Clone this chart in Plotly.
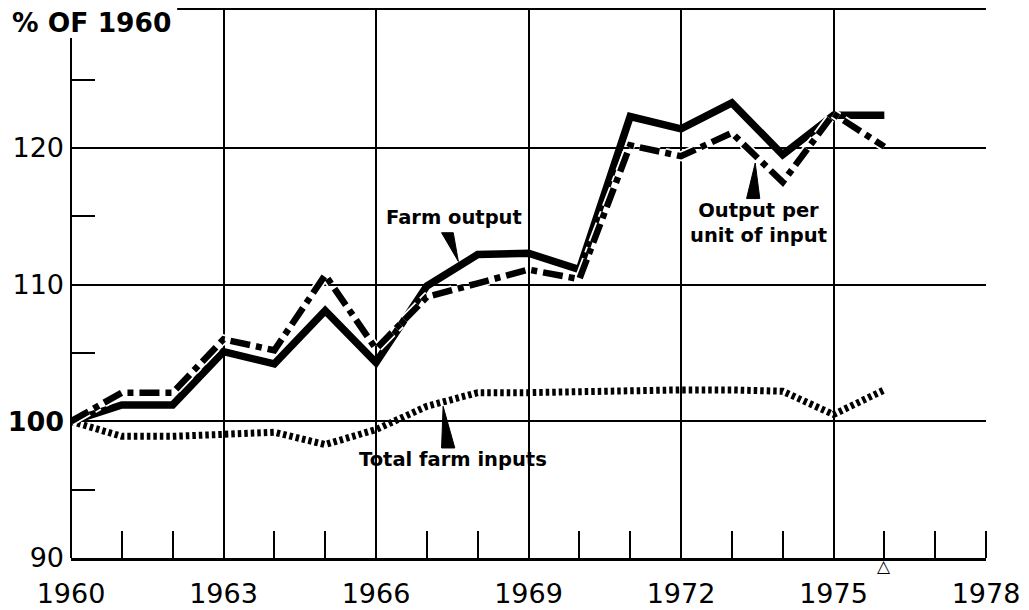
import plotly.graph_objects as go

# Index values, % of 1960
years = list(range(1960, 1977))
farm_output = [100.0, 101.2, 101.2, 105.1, 104.2, 108.1, 104.3, 109.9, 112.2, 112.3,
               111.1, 122.3, 121.4, 123.3, 119.5, 122.4, 122.4]
output_per_input = [100.0, 102.1, 102.1, 106.0, 105.2, 110.7, 105.3, 109.1, 110.1, 111.1,
                    110.4, 120.2, 119.4, 121.1, 117.5, 122.5, 120.1]
total_inputs = [100.0, 98.9, 98.9, 99.0, 99.2, 98.3, 99.4, 101.1, 102.1, 102.1,
                102.2, 102.2, 102.3, 102.3, 102.2, 100.5, 102.3]

x_labels = ["1960", "1963", "1966", "1969", "1972", "1975", "1978"]
x_label_pos = [1960, 1963, 1966, 1969, 1972, 1975, 1978]
y_label_pos = [90, 100, 110, 120]
y_labels = ["90", "<b>100</b>", "110", "120"]

FONT = "DejaVu Sans"

fig = go.Figure()
fig.add_trace(go.Scatter(
    x=years, y=total_inputs, mode="lines",
    line=dict(color="black", width=7, dash="3.5px,3px"),
))
fig.add_trace(go.Scatter(
    x=years, y=farm_output, mode="lines",
    line=dict(color="black", width=7.5),
))
# white halo under the dash-dot so it separates from the solid line
fig.add_trace(go.Scatter(
    x=years, y=output_per_input, mode="lines",
    line=dict(color="white", width=10, dash="20px,6px,6px,6px"),
))
fig.add_trace(go.Scatter(
    x=years, y=output_per_input, mode="lines",
    line=dict(color="black", width=6.5, dash="20px,6px,6px,6px"),
))

# pointer wedges for the labels
wedges = [
    "M 1967.29,113.8 L 1967.52,113.8 L 1967.62,111.7 Z",
    "M 1973.29,116.3 L 1973.55,116.3 L 1973.46,118.9 Z",
    "M 1967.29,98.05 L 1967.55,98.05 L 1967.32,101.1 Z",
]
for p in wedges:
    fig.add_shape(type="path", path=p, xref="x", yref="y",
                  fillcolor="black", line=dict(color="black", width=1))

labels = [
    (1967.53, 114.95, "Farm output"),
    (1973.52, 114.5, "Output per<br>unit of input"),
    (1967.52, 97.2, "Total farm inputs"),
]
for lx, ly, txt in labels:
    fig.add_annotation(x=lx, y=ly, xref="x", yref="y", text=f"<b>{txt}</b>",
                       showarrow=False, font=dict(family=FONT, size=19.5, color="black"),
                       align="center")

# frame pieces: left axis stops below the title, top line starts after it
fig.add_shape(type="line", xref="x domain", yref="y domain", x0=0, x1=0, y0=0, y1=0.947,
              line=dict(color="black", width=2))
fig.add_shape(type="line", xref="x domain", yref="y domain", x0=0.116, x1=1, y0=1, y1=1,
              line=dict(color="black", width=2))

fig.add_annotation(xref="paper", yref="paper", x=-0.067, y=0.976, xanchor="left",
                   yanchor="middle", text="<b>% OF 1960</b>", showarrow=False,
                   font=dict(family=FONT, size=26.5, color="black"))
fig.add_annotation(x=1976, xref="x", yref="paper", y=0, yanchor="top", yshift=4,
                   text="△", showarrow=False, font=dict(family=FONT, size=17, color="black"))

# page body adds an 8px margin, so the figure is sized to fit inside the window
fig.update_layout(
    width=1021, height=602,
    margin=dict(l=63, r=43, t=1, b=52),
    paper_bgcolor="white", plot_bgcolor="white",
    showlegend=False,
    font=dict(family=FONT, size=27, color="black"),
    xaxis=dict(
        range=[1960, 1978], tickvals=x_label_pos, ticktext=x_labels,
        showgrid=True, gridcolor="black", gridwidth=1.5, zeroline=False,
        showline=True, linecolor="black", linewidth=3, ticks="",
        ticklabelstandoff=10, automargin=False,
        minor=dict(dtick=1, tick0=1960, ticks="inside", ticklen=27,
                   tickwidth=1.5, tickcolor="black", showgrid=False),
    ),
    yaxis=dict(
        range=[90, 130.17], tickvals=y_label_pos, ticktext=y_labels,
        showgrid=True, gridcolor="black", gridwidth=1.5, zeroline=False,
        showline=False, ticks="", ticklabelstandoff=6, automargin=False,
        minor=dict(dtick=10, tick0=95, ticks="inside", ticklen=24,
                   tickwidth=1.5, tickcolor="black", showgrid=False),
    ),
    yaxis2=dict(
        range=[90, 130.17], overlaying="y", side="right", anchor="x",
        showgrid=False, zeroline=False, showticklabels=False, tickvals=[],
        showline=True, linecolor="black", linewidth=2, automargin=False,
        minor=dict(dtick=10, tick0=95, ticks="inside", ticklen=24,
                   tickwidth=1.5, tickcolor="black", showgrid=False),
    ),
)

fig.write_html("out.html")
